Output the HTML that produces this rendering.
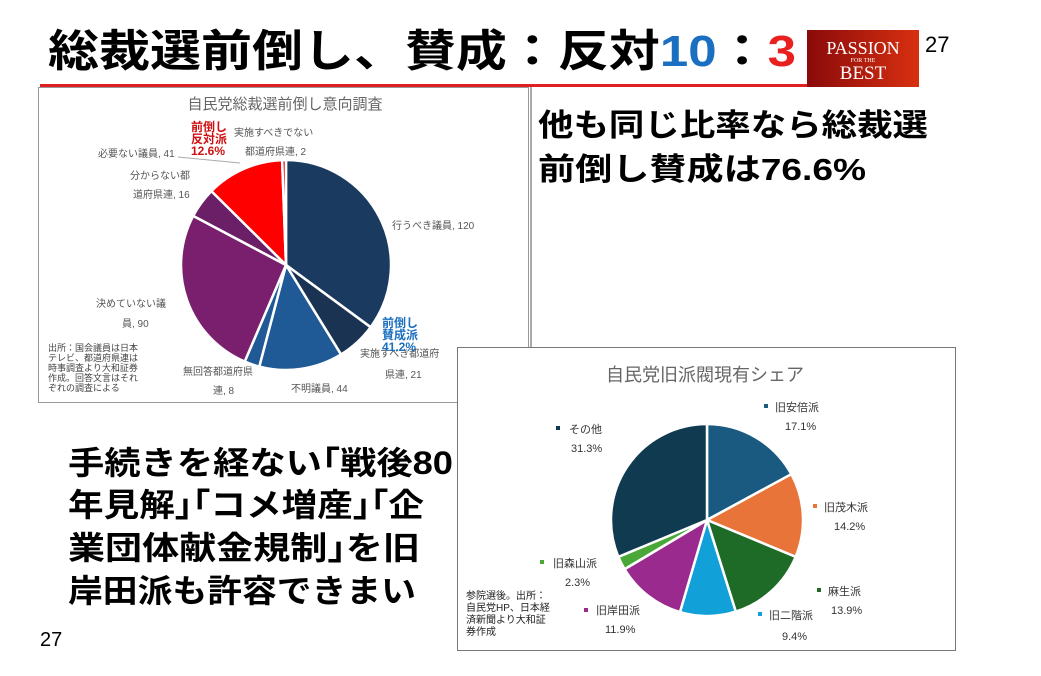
<!DOCTYPE html>
<html><head><meta charset="utf-8"><style>
body{margin:0;background:#fff;width:1041px;height:671px;overflow:hidden;font-family:"Liberation Sans","Noto Sans CJK JP",sans-serif}
svg text{font-family:"Liberation Sans","Noto Sans CJK JP",sans-serif}
</style></head><body>
<svg id="s" width="1041" height="671" xmlns="http://www.w3.org/2000/svg">
<defs><linearGradient id="lg" x1="0" x2="1"><stop offset="0" stop-color="#8a0a0a"/><stop offset="1" stop-color="#d83010"/></linearGradient></defs>
<text x="48" y="66" font-size="44" font-weight="bold" fill="#000" textLength="748" lengthAdjust="spacingAndGlyphs">総裁選前倒し、賛成：反対<tspan fill="#1a6fc0">10</tspan>：<tspan fill="#e82020">3</tspan></text>
<rect x="40" y="84" width="767" height="3" fill="#e02020"/>
<rect x="807" y="30" width="112" height="57" fill="url(#lg)"/>
<text x="863" y="54" font-size="18" fill="#fff" text-anchor="middle" style="font-family:'Liberation Serif',serif">PASSION</text>
<text x="863" y="62" font-size="6" fill="#fff" text-anchor="middle" style="font-family:'Liberation Serif',serif">FOR THE</text>
<text x="863" y="79" font-size="19" fill="#fff" text-anchor="middle" style="font-family:'Liberation Serif',serif">BEST</text>
<text x="925" y="52" font-size="22" fill="#000">27</text>

<rect x="38.5" y="87.5" width="490" height="315" fill="none" stroke="#999" stroke-width="1"/>
<line x1="531" y1="87" x2="531" y2="347" stroke="#555" stroke-width="1"/>
<text x="285" y="109" font-size="15" fill="#666" text-anchor="middle">自民党総裁選前倒し意向調査</text>
<g id="p1"></g>
<g font-size="10" fill="#555">
<text x="234" y="136">実施すべきでない</text>
<text x="245" y="155">都道府県連, 2</text>
<text x="98" y="157">必要ない議員, 41</text>
<text x="130" y="179">分からない都</text>
<text x="133" y="198">道府県連, 16</text>
<text x="392" y="229">行うべき議員, 120</text>
<text x="96" y="307">決めていない議</text>
<text x="122" y="327">員, 90</text>
<text x="360" y="357">実施すべき都道府</text>
<text x="385" y="378">県連, 21</text>
<text x="183" y="375">無回答都道府県</text>
<text x="213" y="394">連, 8</text>
<text x="291" y="392">不明議員, 44</text>
</g>
<g font-size="9" fill="#444"><text x="48" y="351">出所：国会議員は日本</text><text x="48" y="361">テレビ、都道府県連は</text><text x="48" y="371">時事調査より大和証券</text><text x="48" y="381">作成。回答文言はそれ</text><text x="48" y="391">ぞれの調査による</text></g>
<g font-size="12" font-weight="bold" fill="#d01010"><text x="191" y="131">前倒し</text><text x="191" y="143">反対派</text><text x="191" y="155">12.6%</text></g>
<g font-size="12" font-weight="bold" fill="#1a6fc0"><text x="382" y="327">前倒し</text><text x="382" y="339">賛成派</text><text x="382" y="351">41.2%</text></g>
<polyline points="178,157 240,163" stroke="#aaa" fill="none"/>

<text x="538" y="136" font-size="31" font-weight="bold" fill="#000" textLength="390" lengthAdjust="spacingAndGlyphs">他も同じ比率なら総裁選</text>
<text x="538" y="180" font-size="31" font-weight="bold" fill="#000" textLength="328" lengthAdjust="spacingAndGlyphs">前倒し賛成は76.6%</text>

<rect x="457.5" y="347.5" width="498" height="303" fill="#fff" stroke="#777" stroke-width="1"/>
<text x="705" y="381" font-size="18" fill="#666" text-anchor="middle">自民党旧派閥現有シェア</text>
<g id="p2"></g>
<g font-size="11" fill="#333">
<rect x="764" y="404" width="4" height="4" fill="#1a5a80"/><text x="775" y="411">旧安倍派</text><text x="785" y="430">17.1%</text>
<rect x="813" y="504" width="4" height="4" fill="#e8743a"/><text x="824" y="511">旧茂木派</text><text x="834" y="530">14.2%</text>
<rect x="817" y="588" width="4" height="4" fill="#1e6b28"/><text x="828" y="595">麻生派</text><text x="831" y="614">13.9%</text>
<rect x="758" y="612" width="4" height="4" fill="#12a0d8"/><text x="769" y="619">旧二階派</text><text x="782" y="640">9.4%</text>
<rect x="584" y="608" width="4" height="4" fill="#9b2a8e"/><text x="596" y="614">旧岸田派</text><text x="605" y="633">11.9%</text>
<rect x="540" y="560" width="4" height="4" fill="#4aa838"/><text x="553" y="567">旧森山派</text><text x="565" y="586">2.3%</text>
<rect x="556" y="426" width="4" height="4" fill="#0f3a50"/><text x="569" y="433">その他</text><text x="571" y="452">31.3%</text>
</g>
<g font-size="10" fill="#222"><text x="466" y="599">参院選後。出所：</text><text x="466" y="611">自民党HP、日本経</text><text x="466" y="623">済新聞より大和証</text><text x="466" y="635">券作成</text></g>

<g font-size="32" font-weight="bold" fill="#000">
<text x="68" y="474" textLength="385" lengthAdjust="spacingAndGlyphs">手続きを経ない｢戦後80</text>
<text x="68" y="516" textLength="356" lengthAdjust="spacingAndGlyphs">年見解｣｢コメ増産｣｢企</text>
<text x="68" y="559" textLength="352" lengthAdjust="spacingAndGlyphs">業団体献金規制｣を旧</text>
<text x="68" y="602" textLength="348" lengthAdjust="spacingAndGlyphs">岸田派も許容できまい</text>
</g>
<text x="40" y="646" font-size="20" fill="#000">27</text>
</svg>
<script>
function pie(id,cx,cy,r,vals,cols){var t=vals.reduce((a,b)=>a+b,0),a=-Math.PI/2,g=document.getElementById(id),h='';
vals.forEach((v,i)=>{var b=a+v/t*2*Math.PI,x1=cx+r*Math.cos(a),y1=cy+r*Math.sin(a),x2=cx+r*Math.cos(b),y2=cy+r*Math.sin(b);
h+='<path d="M'+cx+','+cy+'L'+x1+','+y1+'A'+r+','+r+' 0 '+((b-a)>Math.PI?1:0)+' 1 '+x2+','+y2+'Z" fill="'+cols[i]+'" stroke="#fff" stroke-width="2.5"/>';a=b;});
g.innerHTML=h;}
pie('p1',286,265,105,[120,21,44,8,90,16,41,2],['#1a3a60','#1a3352','#1f5a96','#1f5a96','#7a1f6e','#6b1f66','#ff0000','#e01010']);
pie('p2',707,520,96,[17.1,14.2,13.9,9.4,11.9,2.3,31.3],['#1a5a80','#e8743a','#1e6b28','#12a0d8','#9b2a8e','#4aa838','#0f3a50']);
</script>
</body></html>
